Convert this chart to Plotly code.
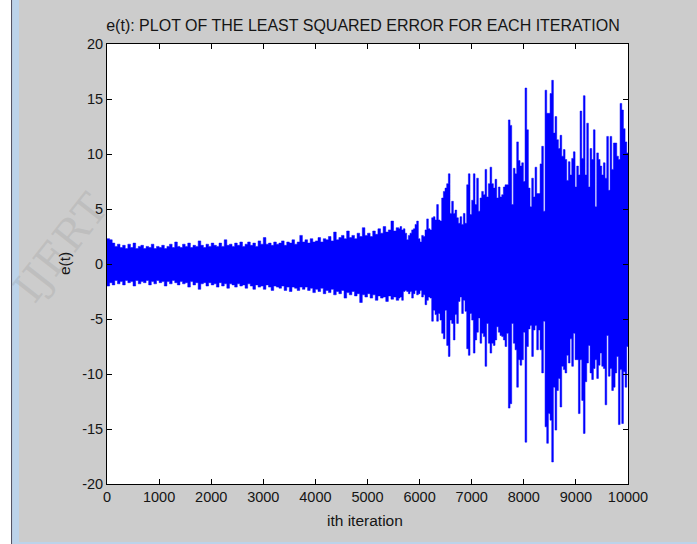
import plotly.graph_objects as go

# ---------------- data ----------------
# sampling grid (iterations) for the envelope of e(t)
ITER_LOW = list(range(0, 5601, 50))
ITER_HIGH = list(range(5624, 9977, 32)) + [10000]

UPPER_LOW = [2.3, 2.2, 1.9, 1.6, 1.8, 1.5, 1.7, 1.4, 1.8, 1.5, 1.9, 1.4, 1.6, 1.7, 1.4, 1.6,
             1.5, 1.8, 1.4, 1.6, 1.5, 1.7, 1.4, 1.6, 1.8, 1.5, 2.0, 1.6, 1.5, 1.8, 1.6, 1.9,
             1.5, 1.7, 1.6, 2.1, 1.7, 1.5, 1.8, 1.6, 1.9, 1.7, 1.6, 1.9, 1.6, 2.2, 1.7, 1.8,
             1.6, 1.9, 1.7, 2.0, 1.6, 1.8, 2.0, 1.7, 1.9, 1.6, 2.1, 1.8, 2.4, 1.8, 1.9, 1.7,
             2.0, 1.8, 1.9, 2.1, 1.7, 2.0, 1.9, 2.2, 1.8, 2.0, 2.6, 2.0, 2.2, 1.9, 2.3, 2.0,
             2.1, 2.4, 2.0, 2.3, 2.2, 2.5, 2.1, 2.9, 2.2, 2.4, 2.6, 2.3, 3.0, 2.4, 2.6, 2.3,
             2.8, 2.5, 3.3, 2.6, 2.8, 2.5, 3.0, 2.7, 3.2, 2.8, 3.4, 2.9, 3.1, 3.9, 3.0, 3.3,
             3.2]
LOWER_LOW = [-2.0, -1.7, -1.9, -1.5, -1.8, -1.6, -1.9, -1.5, -1.7, -1.6, -2.0, -1.5, -1.8, -1.6,
             -1.7, -1.5, -1.9, -1.6, -1.8, -1.5, -1.7, -1.6, -2.0, -1.6, -1.8, -1.5, -1.7, -1.9,
             -1.6, -1.8, -1.7, -2.1, -1.6, -1.9, -1.7, -2.3, -1.8, -1.7, -2.0, -1.7, -1.9, -1.8,
             -2.1, -1.7, -2.0, -1.8, -2.2, -1.8, -1.9, -2.1, -1.8, -2.0, -1.9, -2.2, -1.8, -2.0,
             -2.3, -1.9, -2.1, -2.0, -2.3, -1.9, -2.1, -2.4, -2.0, -2.1, -2.2, -2.0, -2.4, -2.1,
             -2.5, -2.1, -2.2, -2.4, -2.1, -2.3, -2.1, -2.4, -2.2, -2.6, -2.3, -2.5, -2.2, -2.7,
             -2.4, -2.6, -2.3, -2.8, -2.5, -2.7, -2.4, -3.1, -2.6, -2.8, -2.5, -2.9, -2.7, -3.5,
             -2.8, -3.0, -2.7, -3.1, -2.8, -3.3, -2.9, -3.1, -3.0, -3.4, -2.9, -3.2, -3.0, -3.3,
             -3.1]

UPPER_HIGH = [3.4, 3.1, 3.2, 2.8, 2.2, 2.6, 2.8, 3.1, 3.2, 3.6, 3.9, 2.3, 2.0, 2.6, 2.5, 3.1,
              4.1, 3.2, 3.1, 4.2, 4.3, 4.0, 5.4, 4.0, 3.9, 6.0, 6.6, 6.9, 7.3, 8.2, 4.6, 5.7,
              4.6, 4.9, 4.2, 3.7, 4.3, 3.6, 4.6, 3.7, 7.2, 8.2, 4.5, 5.8, 8.2, 5.4, 7.8, 4.8,
              6.0, 6.6, 6.3, 8.6, 6.1, 7.3, 8.8, 7.3, 6.9, 7.7, 6.0, 7.0, 6.1, 6.3, 7.0, 7.2,
              7.2, 13.1, 12.6, 5.4, 8.7, 8.2, 11.1, 9.4, 8.9, 9.2, 7.5, 16.0, 12.2, 6.9, 5.2, 7.8,
              6.1, 8.8, 6.4, 6.4, 9.1, 10.7, 4.8, 15.8, 13.7, 13.7, 15.5, 16.7, 11.9, 13.4, 11.3, 10.5,
              11.7, 9.8, 10.4, 9.5, 7.6, 9.3, 8.1, 9.6, 10.2, 7.0, 8.9, 8.1, 13.9, 9.6, 15.3, 8.1,
              12.8, 7.0, 10.5, 9.5, 12.2, 5.2, 10.1, 9.5, 8.9, 8.1, 9.2, 7.8, 11.6, 6.7, 11.6, 8.6,
              11.0, 11.0, 9.8, 9.5, 14.6, 14.0, 12.3, 11.1, 10.1, 10.1]
LOWER_HIGH = [-3.0, -3.3, -2.5, -2.4, -2.5, -2.7, -2.5, -3.1, -2.7, -2.4, -2.8, -2.7, -2.4, -3.0,
              -2.8, -3.7, -3.3, -3.0, -3.1, -5.2, -4.2, -4.6, -5.2, -4.5, -5.1, -6.3, -6.8, -4.2,
              -7.4, -8.4, -5.1, -5.4, -6.9, -4.6, -5.4, -3.4, -3.0, -4.5, -3.3, -4.3, -7.7, -8.3,
              -4.5, -5.1, -8.1, -6.9, -6.2, -4.9, -7.2, -6.3, -6.6, -9.3, -5.4, -7.2, -8.1, -7.2,
              -7.4, -6.9, -5.7, -6.2, -6.5, -6.6, -6.9, -7.5, -6.3, -13.1, -12.7, -5.4, -7.2, -7.8,
              -11.2, -8.7, -9.2, -8.7, -6.2, -16.2, -7.5, -5.9, -5.6, -8.4, -6.0, -5.6, -7.8, -6.0,
              -7.8, -9.9, -5.2, -14.8, -16.3, -13.6, -14.2, -18.0, -11.2, -15.1, -11.5, -10.4, -13.0,
              -9.3, -9.6, -9.9, -8.3, -9.0, -6.8, -9.3, -6.3, -8.7, -8.7, -13.6, -8.7, -12.4, -15.4,
              -10.7, -9.0, -7.4, -9.9, -10.5, -9.5, -8.7, -10.4, -9.2, -8.1, -9.3, -9.5, -12.8, -6.5,
              -10.2, -9.5, -11.5, -11.2, -9.9, -8.4, -14.6, -9.6, -14.5, -9.8, -11.2, -7.5, -7.5]

X_TICKS = [0, 1000, 2000, 3000, 4000, 5000, 6000, 7000, 8000, 9000, 10000]
Y_TICKS = [-20, -15, -10, -5, 0, 5, 10, 15, 20]

TITLE = "e(t): PLOT OF THE LEAST SQUARED ERROR FOR EACH ITERATION"
X_TITLE = "ith iteration"
Y_TITLE = "e(t)"

# ---------------- figure ----------------
iters = ITER_LOW + ITER_HIGH
upper = UPPER_LOW + UPPER_HIGH
lower = LOWER_LOW + LOWER_HIGH

BLUE = "#0000ff"
FONT = "Liberation Sans, Arial, Helvetica, sans-serif"
TXT = "#151515"

fig = go.Figure()
fig.add_trace(go.Scatter(x=iters, y=lower, mode="lines", line=dict(color=BLUE, width=0.5, shape="hv"),
                         hoverinfo="skip", showlegend=False))
fig.add_trace(go.Scatter(x=iters, y=upper, mode="lines", line=dict(color=BLUE, width=0.5, shape="hv"),
                         fill="tonexty", fillcolor=BLUE, hoverinfo="skip", showlegend=False))

W, H = 697, 544
L, R, T, B = 107, 628, 44, 484
pw = R - L


def px2paper(px):
    return (px - L) / pw


axis_common = dict(showline=True, linecolor="black", linewidth=1, mirror="ticks",
                   ticks="inside", ticklen=5, tickcolor="black", tickwidth=1,
                   showgrid=False, zeroline=False,
                   tickfont=dict(family=FONT, size=14.5, color=TXT))

fig.update_layout(
    width=W, height=H,
    margin=dict(l=L, r=W - R, t=T, b=H - B, pad=0),
    paper_bgcolor="#cccccc", plot_bgcolor="white",
    showlegend=False,
    title=dict(text=TITLE, x=px2paper(363), xref="paper", xanchor="center",
               y=1 - 25 / H, yref="container", yanchor="middle",
               font=dict(family=FONT, size=16, color=TXT)),
    xaxis=dict(range=[0, 10000], tickvals=X_TICKS, ticktext=[str(v) for v in X_TICKS], **axis_common),
    yaxis=dict(range=[-20, 20], tickvals=Y_TICKS, ticktext=[str(v) for v in Y_TICKS], **axis_common),
)

fig.add_annotation(text=X_TITLE, xref="paper", yref="paper", x=px2paper(365), y=0,
                   xanchor="center", yanchor="middle", yshift=-(520 - B), showarrow=False,
                   font=dict(family=FONT, size=15.5, color=TXT))
fig.add_annotation(text=Y_TITLE, xref="paper", yref="paper", x=0, y=0.5,
                   xanchor="center", yanchor="middle", xshift=-(L - 64), textangle=-90,
                   showarrow=False, font=dict(family=FONT, size=15.5, color=TXT))

# faint watermark at the left edge
fig.add_annotation(text="IJERT", xref="paper", yref="paper", x=px2paper(60), y=1 - (248 - T) / (B - T),
                   xanchor="center", yanchor="middle", textangle=-52, showarrow=False,
                   font=dict(family="DejaVu Serif, serif", size=42, color="rgba(140,140,140,0.22)"))

# window frame at the far left / bottom of the screenshot
shapes = [
    dict(type="rect", xref="paper", yref="paper", x0=px2paper(0), x1=px2paper(11), y0=-2, y1=2,
         fillcolor="white", line_width=0, layer="above"),
    dict(type="rect", xref="paper", yref="paper", x0=px2paper(11), x1=px2paper(12.2), y0=-2, y1=2,
         fillcolor="#555566", line_width=0, layer="above"),
    dict(type="rect", xref="paper", yref="paper", x0=px2paper(12.2), x1=px2paper(19), y0=-2, y1=2,
         fillcolor="#bcd3ea", line_width=0, layer="above"),
    dict(type="rect", xref="paper", yref="paper", x0=px2paper(19), x1=px2paper(W + 5),
         y0=-(H - 1 - B) / (B - T) - 0.02, y1=-(H - 2 - B) / (B - T) - 0.0,
         fillcolor="#bcd3ea", line_width=0, layer="above"),
]
fig.update_layout(shapes=shapes)

fig.write_html("out.html")
